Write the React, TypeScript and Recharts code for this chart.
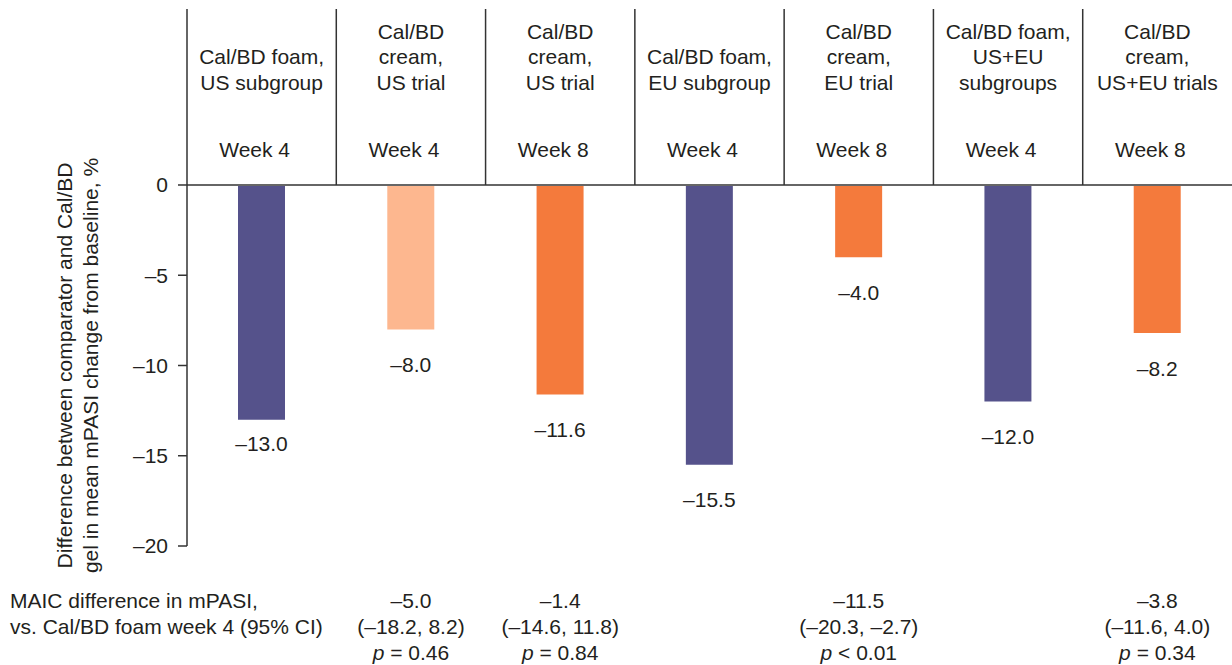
import React from 'react'
import { Bar, BarChart, Cell, LabelList, ReferenceLine, XAxis, YAxis } from 'recharts'

const categories = ['foamUS', 'creamUSw4', 'creamUSw8', 'foamEU', 'creamEUw8', 'foamUSEU', 'creamUSEUw8']
const headerLines = [
  ['Cal/BD foam,', 'US subgroup'],
  ['Cal/BD', 'cream,', 'US trial'],
  ['Cal/BD', 'cream,', 'US trial'],
  ['Cal/BD foam,', 'EU subgroup'],
  ['Cal/BD', 'cream,', 'EU trial'],
  ['Cal/BD foam,', 'US+EU', 'subgroups'],
  ['Cal/BD', 'cream,', 'US+EU trials'],
]
const weeks = [4, 4, 8, 4, 8, 4, 8]
const formulations = ['foam', 'cream', 'cream', 'foam', 'cream', 'foam', 'cream']
const differences = [-13.0, -8.0, -11.6, -15.5, -4.0, -12.0, -8.2]
const maicDiff = ['', '–5.0', '–1.4', '', '–11.5', '', '–3.8']
const maicCi = ['', '(–18.2, 8.2)', '(–14.6, 11.8)', '', '(–20.3, –2.7)', '', '(–11.6, 4.0)']
const maicP = ['', '= 0.46', '= 0.84', '', '< 0.01', '', '= 0.34']
const yTicks = [-20, -15, -10, -5, 0]

const data = categories.map((key, i) => ({ key, value: differences[i] }))

const FONT = '"Liberation Sans", Arial, sans-serif'
const INK = '#231f20'
const W = 1232
const H = 665
const PLOT_TOP = 9
const PLOT_BOTTOM = 546
const ZERO_Y = 185
const AXIS_X = 187

const PURPLE = '#55528b'
const ORANGE = '#f47a3c'
const LIGHT_ORANGE = '#fdb78f'

function barColor(i: number) {
  if (formulations[i] === 'foam') return PURPLE
  return weeks[i] === 4 ? LIGHT_ORANGE : ORANGE
}

const dash = (v: number) => (v < 0 ? '–' + Math.abs(v) : String(v))

function HeaderTick(props: any) {
  const { x, index, payload } = props
  const lines = headerLines[index]
  const half = payload?.offset || (W - AXIS_X) / categories.length / 2
  return (
    <g fontFamily={FONT} fontSize={21} fill={INK}>
      {lines.map((t, i) => (
        <text key={i} x={x} y={89.5 - (lines.length - 1 - i) * 25.5} textAnchor='middle'>
          {t}
        </text>
      ))}
      <text x={x - 7} y={156.5} textAnchor='middle'>
        Week {weeks[index]}
      </text>
      {index < categories.length - 1 && (
        <line x1={x + half} x2={x + half} y1={PLOT_TOP} y2={ZERO_Y} stroke='#333' strokeWidth={1.5} />
      )}
    </g>
  )
}

function StatsTick(props: any) {
  const { x, index } = props
  if (!maicDiff[index]) return null
  return (
    <g fontFamily={FONT} fontSize={21} fill={INK}>
      <text x={x} y={607.5} textAnchor='middle'>{maicDiff[index]}</text>
      <text x={x} y={633.5} textAnchor='middle'>{maicCi[index]}</text>
      <text x={x} y={659.5} textAnchor='middle'>
        <tspan fontStyle='italic'>p</tspan> {maicP[index]}
      </text>
    </g>
  )
}

function ValueLabel(props: any) {
  const { x, y, width, height, value, index } = props
  const end = Math.max(y, y + height)
  const gap = index === 0 ? 24 : 35
  return (
    <text x={x + width / 2} y={end + gap + 7.5} textAnchor='middle' fontFamily={FONT} fontSize={21} fill={INK}>
      {dash(Number(value)).replace(/^(–?\d+)$/, '$1.0')}
    </text>
  )
}

function SideText() {
  const cy = (ZERO_Y + PLOT_BOTTOM) / 2
  return (
    <g fontFamily={FONT} fontSize={21} fill={INK}>
      <text transform={`translate(72, ${cy}) rotate(-90)`} textAnchor='middle'>
        Difference between comparator and Cal/BD
      </text>
      <text transform={`translate(98, ${cy}) rotate(-90)`} textAnchor='middle'>
        gel in mean mPASI change from baseline, %
      </text>
      <text x={10} y={607.5}>MAIC difference in mPASI,</text>
      <text x={10} y={633.5}>vs. Cal/BD foam week 4 (95% CI)</text>
    </g>
  )
}

export default function App() {
  return (
    <div style={{ position: 'absolute', left: 0, top: 0, width: W, height: H, background: '#fff' }}>
      <BarChart
        width={W}
        height={H}
        data={data}
        margin={{ top: PLOT_TOP - 1, right: 0, left: 0, bottom: 0 }}
        style={{ fontFamily: FONT }}
      >
        <XAxis
          xAxisId='top'
          dataKey='key'
          orientation='top'
          height={1}
          axisLine={false}
          tickLine={false}
          interval={0}
          tick={<HeaderTick />}
        />
        <XAxis
          xAxisId='bottom'
          dataKey='key'
          height={H - PLOT_BOTTOM}
          axisLine={false}
          tickLine={false}
          interval={0}
          tick={<StatsTick />}
        />
        <YAxis
          width={AXIS_X}
          domain={[-20, 9.75]}
          ticks={yTicks}
          allowDataOverflow
          tickFormatter={dash}
          tickSize={9}
          tickMargin={10}
          axisLine={{ stroke: '#333', strokeWidth: 1.5 }}
          tickLine={{ stroke: '#333', strokeWidth: 1.5 }}
          tick={{ fill: INK, fontSize: 21, fontFamily: FONT }}
          label={{ content: () => <SideText /> }}
        />
        <ReferenceLine xAxisId='top' y={0} stroke='#666' strokeWidth={2} />
        <Bar xAxisId='top' dataKey='value' barSize={47} isAnimationActive={false}>
          {data.map((_entry, index) => (
            <Cell key={`cell-${index}`} fill={barColor(index)} />
          ))}
          <LabelList dataKey='value' content={<ValueLabel />} />
        </Bar>
      </BarChart>
    </div>
  )
}
